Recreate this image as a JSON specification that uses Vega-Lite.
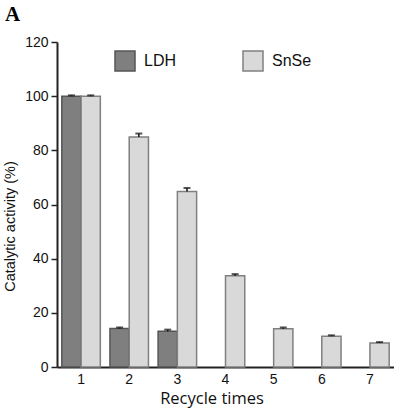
{
  "$schema": "https://vega.github.io/schema/vega-lite/v6.json",
  "width": 337,
  "height": 325,
  "autosize": {"type": "none"},
  "padding": {"left": 57, "top": 42, "right": 0, "bottom": 41},
  "title": {"text": "A", "anchor": "start", "frame": "group", "font": "Liberation Serif", "fontSize": 21, "fontWeight": "bold", "color": "#000", "dx": -52, "offset": 10},
  "data": {
    "values": [
      {"cycle": "1", "series": "LDH", "value": 100, "hi": 100.3},
      {"cycle": "2", "series": "LDH", "value": 14.2, "hi": 14.6},
      {"cycle": "3", "series": "LDH", "value": 13.2, "hi": 13.8},
      {"cycle": "1", "series": "SnSe", "value": 100, "hi": 100.3},
      {"cycle": "2", "series": "SnSe", "value": 84.9, "hi": 86.2},
      {"cycle": "3", "series": "SnSe", "value": 64.8, "hi": 66.1},
      {"cycle": "4", "series": "SnSe", "value": 33.7, "hi": 34.3},
      {"cycle": "5", "series": "SnSe", "value": 14.1, "hi": 14.6},
      {"cycle": "6", "series": "SnSe", "value": 11.4, "hi": 11.7},
      {"cycle": "7", "series": "SnSe", "value": 8.9, "hi": 9.2}
    ]
  },
  "encoding": {
    "x": {
      "field": "cycle", "type": "nominal",
      "scale": {"paddingInner": 0.2, "paddingOuter": 0.1},
      "axis": {"title": "Recycle times", "labelAngle": 0, "ticks": false, "labelPadding": 5,
               "titleFont": "Open Sans", "titleFontSize": 16.5, "titleFontWeight": 500,
               "titleX": 154.5, "titleY": 36, "titleBaseline": "alphabetic"}
    },
    "xOffset": {"field": "series", "type": "nominal", "scale": {"domain": ["LDH", "SnSe"]}}
  },
  "layer": [
    {
      "mark": {"type": "bar", "strokeWidth": 1.5},
      "encoding": {
        "y": {
          "field": "value", "type": "quantitative",
          "scale": {"domain": [0, 120]},
          "axis": {"title": "Catalytic activity (%)", "values": [0, 20, 40, 60, 80, 100, 120], "tickSize": 6, "labelPadding": 3,
                   "titleFont": "Liberation Sans", "titleFontSize": 14.5, "titleFontWeight": "normal",
                   "titleX": -47, "titleY": 184, "titleBaseline": "middle"}
        },
        "color": {
          "field": "series", "type": "nominal",
          "scale": {"domain": ["LDH", "SnSe"], "range": ["#7f7f7f", "#d9d9d9"]},
          "legend": {
            "title": null, "orient": "none", "direction": "horizontal",
            "legendX": 57, "legendY": 8,
            "symbolType": "square", "symbolSize": 400,
            "symbolStrokeColor": "#555", "symbolStrokeWidth": 1.5,
            "labelFont": "Liberation Sans", "labelFontSize": 16, "labelColor": "#111",
            "labelOffset": 8, "columnPadding": 63, "padding": 0
          }
        },
        "stroke": {
          "field": "series", "type": "nominal",
          "scale": {"domain": ["LDH", "SnSe"], "range": ["#555555", "#808080"]},
          "legend": null
        }
      }
    },
    {
      "mark": {"type": "rule", "color": "#111", "strokeWidth": 1.5},
      "encoding": {
        "y": {"field": "value", "type": "quantitative"},
        "y2": {"field": "hi"}
      }
    },
    {
      "mark": {"type": "tick", "color": "#111", "size": 7, "thickness": 2},
      "encoding": {
        "y": {"field": "hi", "type": "quantitative"}
      }
    }
  ],
  "config": {
    "view": {"stroke": null},
    "axis": {
      "grid": false,
      "domainColor": "#222", "domainWidth": 2,
      "tickColor": "#222", "tickWidth": 1.5,
      "labelFont": "Liberation Sans", "labelFontSize": 14, "labelColor": "#111",
      "titleColor": "#111"
    }
  }
}
